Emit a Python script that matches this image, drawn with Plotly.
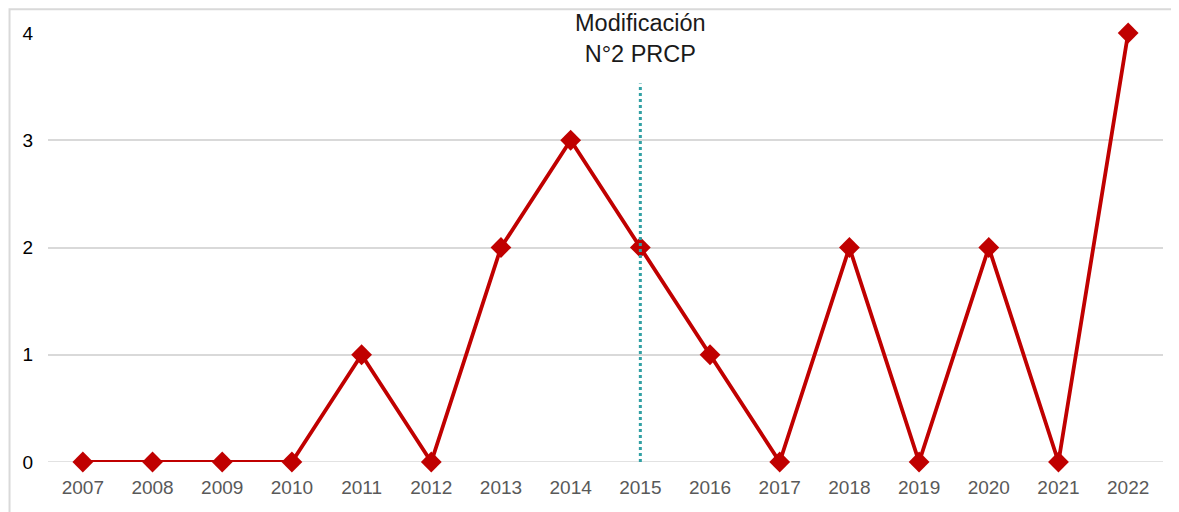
import plotly.graph_objects as go

years = ["2007", "2008", "2009", "2010", "2011", "2012", "2013", "2014",
         "2015", "2016", "2017", "2018", "2019", "2020", "2021", "2022"]
values = [0, 0, 0, 0, 1, 0, 2, 3, 2, 1, 0, 2, 0, 2, 0, 4]
marker_year = "2015"
marker_line_top = 3.53
annotation_text = "Modificación<br>N°2 PRCP"

mx = years.index(marker_year)

fig = go.Figure()
fig.add_trace(go.Scatter(
    x=years, y=values, mode="lines+markers",
    line=dict(color="#C00000", width=3.8),
    marker=dict(symbol="diamond", size=16, color="#C00000"),
    cliponaxis=False, showlegend=False,
))
fig.add_trace(go.Scatter(
    x=[marker_year, marker_year], y=[0, marker_line_top], mode="lines",
    line=dict(color="#31A0A4", width=3, dash="dot"),
    showlegend=False, hoverinfo="skip",
))
fig.add_annotation(
    x=mx, y=1.0, xref="x", yref="paper", yanchor="bottom",
    text=annotation_text, showarrow=False,
    font=dict(family="Liberation Sans, Arial", size=23.5, color="#1a1a1a"),
    yshift=-36,
)
# chart frame
fig.add_shape(type="rect", xref="paper", yref="paper",
              x0=-0.0345, x1=1.2, y0=-0.3, y1=1.0555,
              line=dict(color="#D9D9D9", width=2), layer="above")

fig.update_layout(
    width=1179, height=504,
    margin=dict(l=40, r=24, t=25, b=50),
    paper_bgcolor="white", plot_bgcolor="white",
    font=dict(family="Liberation Sans, Arial"),
    xaxis=dict(type="category", range=[-0.5, 15.5], showgrid=False,
               tickfont=dict(size=19, color="#595959"), ticks="",
               ticklabelstandoff=12,
               showline=False, zeroline=False),
    yaxis=dict(range=[0, 4], tickvals=[0, 1, 2, 3, 4], showgrid=True,
               gridcolor="#D9D9D9", gridwidth=1.5, zeroline=False,
               tickfont=dict(size=19, color="#000000"), ticks="",
               ticklabelstandoff=14, showline=False),
)
fig.add_shape(type="line", xref="paper", yref="y", x0=0, x1=1, y0=0, y1=0,
              line=dict(color="#D9D9D9", width=1.5), layer="below")

fig.write_html("out.html")
